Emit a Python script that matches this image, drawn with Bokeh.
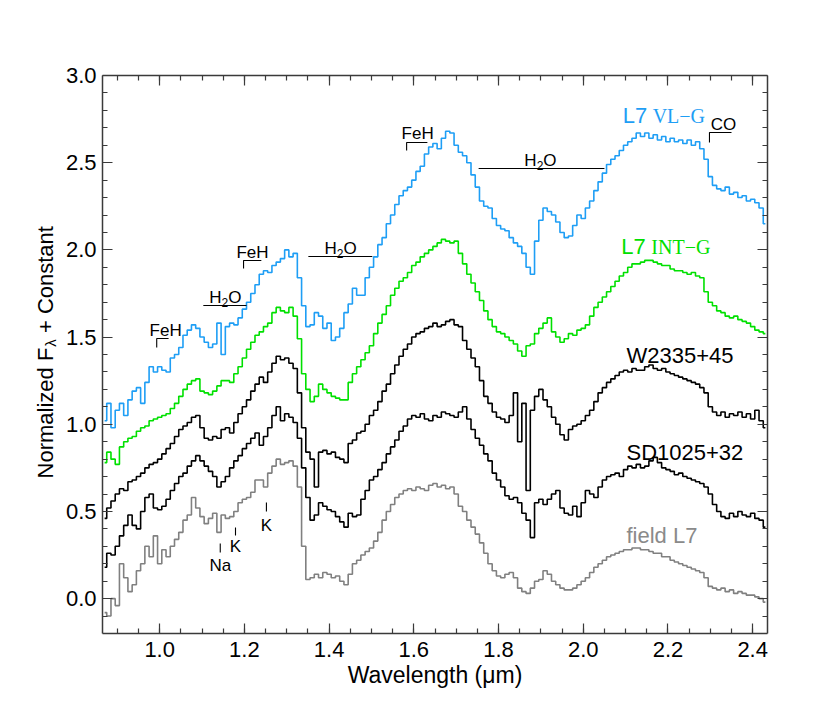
import numpy as np
from bokeh.plotting import figure
from bokeh.layouts import row
from bokeh.models import Range1d, LinearAxis, FixedTicker, Label, PrintfTickFormatter
from bokeh.core.properties import value
from bokeh.embed import file_html
from bokeh.resources import INLINE

# sampling grid of the spectra (microns)
wavelength = np.round(np.arange(0.87, 2.4351, 0.01), 2)

field_L7 = [
    -0.08, -0.10, 0.00, -0.04, 0.20, 0.12, 0.04, 0.08, 0.16, 0.20,
    0.30, 0.24, 0.36, 0.20, 0.28, 0.24, 0.30, 0.34, 0.38, 0.45,
    0.48, 0.58, 0.52, 0.47, 0.43, 0.46, 0.49, 0.38, 0.48, 0.46,
    0.47, 0.50, 0.55, 0.57, 0.58, 0.61, 0.68, 0.68, 0.64, 0.72,
    0.76, 0.80, 0.77, 0.78, 0.79, 0.76, 0.64, 0.30, 0.11, 0.12,
    0.14, 0.12, 0.15, 0.14, 0.12, 0.13, 0.10, 0.08, 0.14, 0.20,
    0.22, 0.25, 0.27, 0.29, 0.33, 0.38, 0.45, 0.50, 0.54, 0.58,
    0.60, 0.62, 0.63, 0.62, 0.64, 0.63, 0.62, 0.65, 0.66, 0.64,
    0.65, 0.63, 0.64, 0.60, 0.53, 0.50, 0.45, 0.41, 0.37, 0.32,
    0.26, 0.20, 0.16, 0.13, 0.12, 0.14, 0.15, 0.12, 0.06, 0.04,
    0.03, 0.06, 0.10, 0.11, 0.16, 0.14, 0.10, 0.08, 0.06, 0.05,
    0.05, 0.06, 0.08, 0.10, 0.12, 0.15, 0.18, 0.20, 0.22, 0.24,
    0.25, 0.26, 0.27, 0.28, 0.28, 0.29, 0.29, 0.28, 0.28, 0.27,
    0.26, 0.26, 0.24, 0.24, 0.22, 0.21, 0.20, 0.19, 0.18, 0.17,
    0.16, 0.15, 0.12, 0.07, 0.06, 0.05, 0.06, 0.04, 0.05, 0.03,
    0.04, 0.03, 0.02, 0.02, 0.01, 0.00, -0.02]

sd1025 = [
    0.18, 0.26, 0.25, 0.30, 0.36, 0.42, 0.48, 0.42, 0.40, 0.50,
    0.58, 0.60, 0.52, 0.51, 0.53, 0.57, 0.62, 0.66, 0.70, 0.72,
    0.76, 0.79, 0.82, 0.79, 0.76, 0.73, 0.70, 0.64, 0.67, 0.70,
    0.75, 0.79, 0.82, 0.86, 0.89, 0.92, 0.95, 0.88, 0.93, 0.98,
    1.05, 1.10, 1.02, 1.06, 1.04, 1.01, 0.92, 0.75, 0.58, 0.45,
    0.48, 0.55, 0.53, 0.51, 0.50, 0.47, 0.44, 0.41, 0.49, 0.47,
    0.48, 0.57, 0.62, 0.68, 0.70, 0.74, 0.78, 0.83, 0.87, 0.91,
    0.96, 0.99, 1.03, 1.05, 1.04, 1.06, 1.03, 1.02, 1.05, 1.04,
    1.07, 1.06, 1.05, 1.04, 1.07, 1.10, 1.03, 0.97, 0.92, 0.88,
    0.83, 0.79, 0.72, 0.68, 0.64, 0.59, 0.57, 0.58, 0.55, 0.49,
    0.45, 0.35, 0.55, 0.57, 0.54, 0.57, 0.60, 0.62, 0.52, 0.49,
    0.48, 0.53, 0.47, 0.55, 0.62, 0.60, 0.58, 0.64, 0.68, 0.70,
    0.71, 0.72, 0.70, 0.74, 0.76, 0.75, 0.77, 0.75, 0.76, 0.79,
    0.81, 0.78, 0.75, 0.74, 0.73, 0.71, 0.72, 0.70, 0.69, 0.68,
    0.67, 0.66, 0.64, 0.60, 0.54, 0.50, 0.47, 0.46, 0.49, 0.47,
    0.50, 0.48, 0.47, 0.49, 0.46, 0.45, 0.41]

w2335 = [
    0.46, 0.52, 0.56, 0.60, 0.63, 0.62, 0.67, 0.68, 0.70, 0.72,
    0.75, 0.77, 0.78, 0.80, 0.83, 0.86, 0.89, 0.93, 0.97, 0.99,
    1.01, 1.04, 1.05, 0.98, 0.92, 0.91, 0.93, 0.92, 0.97, 0.98,
    0.95, 1.01, 1.06, 1.10, 1.14, 1.19, 1.23, 1.27, 1.24, 1.30,
    1.35, 1.39, 1.37, 1.38, 1.35, 1.32, 1.18, 0.98, 0.84, 0.80,
    0.64, 0.84, 0.85, 0.83, 0.84, 0.81, 0.80, 0.78, 0.89, 0.91,
    0.95, 0.96, 1.00, 1.05, 1.08, 1.13, 1.19, 1.23, 1.29, 1.34,
    1.39, 1.43, 1.46, 1.50, 1.52, 1.53, 1.55, 1.56, 1.58, 1.56,
    1.57, 1.59, 1.60, 1.57, 1.56, 1.48, 1.43, 1.38, 1.33, 1.25,
    1.16, 1.12, 1.07, 1.04, 1.03, 1.01, 1.05, 1.18, 0.90, 1.12,
    0.62, 1.08, 1.16, 1.20, 1.14, 1.10, 1.04, 1.00, 0.94, 0.91,
    0.97, 0.99, 1.00, 1.02, 1.05, 1.08, 1.13, 1.18, 1.21, 1.24,
    1.26, 1.28, 1.30, 1.31, 1.30, 1.32, 1.31, 1.31, 1.33, 1.34,
    1.32, 1.31, 1.32, 1.30, 1.29, 1.28, 1.27, 1.26, 1.25, 1.24,
    1.23, 1.21, 1.18, 1.10, 1.07, 1.05, 1.07, 1.04, 1.06, 1.05,
    1.07, 1.04, 1.06, 1.03, 1.08, 1.02, 0.98]

l7_int_g = [
    0.78, 0.84, 0.80, 0.77, 0.87, 0.90, 0.92, 0.93, 0.96, 0.98,
    0.99, 1.02, 1.03, 1.04, 1.05, 1.06, 1.09, 1.12, 1.16, 1.20,
    1.23, 1.25, 1.26, 1.19, 1.18, 1.17, 1.19, 1.22, 1.25, 1.25,
    1.24, 1.29, 1.33, 1.38, 1.43, 1.47, 1.51, 1.53, 1.56, 1.58,
    1.64, 1.67, 1.65, 1.64, 1.67, 1.62, 1.49, 1.29, 1.20, 1.13,
    1.16, 1.23, 1.20, 1.18, 1.16, 1.15, 1.14, 1.14, 1.24, 1.29,
    1.33, 1.37, 1.41, 1.45, 1.52, 1.58, 1.63, 1.68, 1.74, 1.78,
    1.82, 1.84, 1.87, 1.91, 1.93, 1.96, 1.98, 2.00, 2.02, 2.04,
    2.06, 2.05, 2.04, 2.05, 1.98, 1.92, 1.86, 1.81, 1.76, 1.71,
    1.65, 1.60, 1.56, 1.53, 1.52, 1.50, 1.48, 1.46, 1.42, 1.39,
    1.45, 1.46, 1.52, 1.55, 1.58, 1.61, 1.53, 1.50, 1.47, 1.49,
    1.52, 1.51, 1.54, 1.55, 1.57, 1.62, 1.67, 1.70, 1.73, 1.76,
    1.79, 1.82, 1.85, 1.87, 1.90, 1.92, 1.92, 1.93, 1.94, 1.94,
    1.93, 1.92, 1.91, 1.91, 1.89, 1.88, 1.88, 1.87, 1.86, 1.87,
    1.85, 1.84, 1.76, 1.70, 1.68, 1.65, 1.64, 1.62, 1.61, 1.62,
    1.60, 1.59, 1.58, 1.56, 1.54, 1.53, 1.52]

l7_vl_g = [
    1.02, 1.12, 0.98, 1.08, 1.12, 1.05, 1.14, 1.19, 1.21, 1.12,
    1.24, 1.33, 1.30, 1.33, 1.31, 1.30, 1.38, 1.40, 1.44, 1.51,
    1.54, 1.57, 1.55, 1.50, 1.47, 1.44, 1.46, 1.58, 1.40, 1.56,
    1.58, 1.57, 1.61, 1.66, 1.70, 1.75, 1.80, 1.86, 1.88, 1.87,
    1.91, 1.93, 1.95, 2.00, 1.96, 1.98, 1.84, 1.68, 1.56, 1.57,
    1.64, 1.62, 1.55, 1.58, 1.48, 1.50, 1.55, 1.64, 1.69, 1.78,
    1.74, 1.74, 1.84, 1.90, 1.96, 2.03, 2.07, 2.15, 2.20, 2.26,
    2.31, 2.34, 2.36, 2.40, 2.45, 2.48, 2.55, 2.59, 2.61, 2.58,
    2.64, 2.68, 2.67, 2.60, 2.56, 2.54, 2.50, 2.43, 2.36, 2.28,
    2.25, 2.24, 2.18, 2.14, 2.12, 2.11, 2.07, 2.04, 2.02, 1.98,
    1.90, 1.86, 2.05, 2.17, 2.24, 2.22, 2.20, 2.16, 2.10, 2.07,
    2.08, 2.14, 2.20, 2.18, 2.24, 2.28, 2.34, 2.39, 2.44, 2.49,
    2.52, 2.54, 2.57, 2.60, 2.62, 2.64, 2.67, 2.65, 2.67, 2.64,
    2.66, 2.63, 2.65, 2.62, 2.64, 2.62, 2.63, 2.61, 2.63, 2.60,
    2.62, 2.58, 2.52, 2.42, 2.37, 2.35, 2.34, 2.36, 2.32, 2.33,
    2.30, 2.31, 2.28, 2.29, 2.27, 2.24, 2.15]

# molecular band markers
feature_names = ["FeH", "H2O", "FeH", "H2O", "FeH", "H2O", "CO"]
feature_x0 = [0.993, 1.103, 1.198, 1.351, 1.583, 1.753, 2.298]
feature_x1 = [1.021, 1.205, 1.240, 1.502, 1.632, 2.050, 2.350]
feature_y = [1.492, 1.681, 1.939, 1.962, 2.616, 2.467, 2.673]
feature_tick_y = [1.440, None, 1.893, None, 2.570, None, 2.616]
feature_text_x = [1.014, 1.155, 1.219, 1.427, 1.609, 1.899, 2.331]
feature_text_y = [1.509, 1.698, 1.956, 1.979, 2.639, 2.484, 2.685]

# atomic lines
atom_names = ["Na", "K", "K"]
atom_x = [1.143, 1.179, 1.252]
atom_tick_lo = [0.265, 0.362, 0.500]
atom_tick_hi = [0.316, 0.408, 0.551]
atom_text_y = [0.161, 0.265, 0.391]

x_major = [1.0, 1.2, 1.4, 1.6, 1.8, 2.0, 2.2, 2.4]
x_minor = [round(0.9 + 0.05 * i, 2) for i in range(31)]
y_major = [0.0, 0.5, 1.0, 1.5, 2.0, 2.5, 3.0]
y_minor = [round(-0.1 + 0.1 * i, 2) for i in range(31)]

BLUE = "#1e9ef5"
GREEN = "#00e000"
GRAY = "#808080"
BLACK = "#000000"
SANS = "Liberation Sans"
SERIF = "Liberation Serif"
BASE_FIX = 0.32   # renderer puts the alphabetic baseline ~0.32 em low

SIDE_W = 62
p = figure(width=814 - SIDE_W, height=710, output_backend="svg", toolbar_location=None,
           x_range=Range1d(0.865, 2.435), y_range=Range1d(-0.2, 3.0),
           x_axis_location=None, y_axis_location=None,
           min_border_left=102 - SIDE_W, min_border_right=47, min_border_top=75,
           min_border_bottom=77, background_fill_color="white",
           border_fill_color="white")
p.grid.visible = False
p.outline_line_color = None

bottom = LinearAxis()
left = LinearAxis()
top = LinearAxis()
right = LinearAxis()
p.add_layout(bottom, "below")
p.add_layout(left, "left")
p.add_layout(top, "above")
p.add_layout(right, "right")

AX_COLOR = "#3a3a3a"
for ax in [bottom, top]:
    ax.ticker = FixedTicker(ticks=x_major, minor_ticks=x_minor)
for ax in [left, right]:
    ax.ticker = FixedTicker(ticks=y_major, minor_ticks=y_minor)
for ax in [bottom, top, left, right]:
    ax.formatter = PrintfTickFormatter(format="%.1f")
    ax.axis_line_color = AX_COLOR
    ax.axis_line_width = 1.5
    ax.major_tick_line_color = AX_COLOR
    ax.minor_tick_line_color = AX_COLOR
    ax.major_tick_line_width = 1.2
    ax.minor_tick_line_width = 1.2
    ax.major_tick_in = 10
    ax.major_tick_out = 0
    ax.minor_tick_in = 5
    ax.minor_tick_out = 0
    ax.major_label_text_font = SANS
    ax.major_label_text_font_size = "22px"
    ax.major_label_text_color = BLACK
for ax in [top, right]:
    ax.major_label_text_alpha = 0
bottom.major_label_standoff = 8
left.major_label_standoff = 6
bottom.axis_label = "Wavelength (\u03bcm)"
bottom.axis_label_text_font = SANS
bottom.axis_label_text_font_size = "23px"
bottom.axis_label_text_font_style = "normal"
bottom.axis_label_text_color = BLACK
bottom.axis_label_standoff = 2

# spectra
series = [(field_L7, GRAY), (sd1025, BLACK), (w2335, BLACK),
          (l7_int_g, GREEN), (l7_vl_g, BLUE)]
for vals, col in series:
    assert len(vals) == len(wavelength)
    p.step(wavelength, vals, mode="center", line_color=col, line_width=1.6)

# band brackets
for x0, x1, yl, yt in zip(feature_x0, feature_x1, feature_y, feature_tick_y):
    if yt is None:
        p.line([x0, x1], [yl, yl], line_color=BLACK, line_width=1.1)
    else:
        p.line([x0, x0, x1], [yt, yl, yl], line_color=BLACK, line_width=1.1)


def lab(x, y, text, color=BLACK, font=SANS, size=22, dx=0, dy=0, align="left"):
    p.add_layout(Label(x=x, y=y, text=text, text_font=font, text_font_size=f"{size}px",
                       text_color=color, text_align=align, text_baseline="alphabetic",
                       x_offset=dx, y_offset=dy + BASE_FIX * size))


for name, tx, ty in zip(feature_names, feature_text_x, feature_text_y):
    if name == "H2O":
        lab(tx, ty, "H", size=17, dx=-16.1)
        lab(tx, ty, "2", size=12, dx=-3.8, dy=-4)
        lab(tx, ty, "O", size=17, dx=2.9)
    else:
        lab(tx, ty, name, size=17, align="center")

for name, ax_, lo, hi, ty in zip(atom_names, atom_x, atom_tick_lo, atom_tick_hi, atom_text_y):
    p.line([ax_, ax_], [lo, hi], line_color=BLACK, line_width=1.1)
    lab(ax_, ty, name, size=17, align="center")

# spectrum labels
lab(2.093, 2.730, "L7", BLUE)
lab(2.093, 2.730, "VL\u2212G", BLUE, font=SERIF, size=20, dx=30)
lab(2.090, 1.979, "L7", GREEN)
lab(2.090, 1.979, "INT\u2212G", GREEN, font=SERIF, size=20, dx=30)
lab(2.102, 1.354, "W2335+45")
lab(2.102, 0.798, "SD1025+32")
lab(2.102, 0.322, "field L7", "#8a8a8a")

# side panel carrying the rotated y-axis title (F with subscript lambda)
side = figure(width=SIDE_W, height=710, output_backend="svg", toolbar_location=None,
              x_range=Range1d(0, SIDE_W), y_range=p.y_range,
              x_axis_location=None, y_axis_location=None,
              min_border_left=0, min_border_right=0, min_border_top=75,
              min_border_bottom=77, background_fill_color="white",
              border_fill_color="white")
side.grid.visible = False
side.outline_line_color = None

TFS = 22
YX = 52 - BASE_FIX * TFS
YY = 0.689
PX_PER_Y = 558 / 3.2
w_main = 5.945 * TFS
title_parts = [("Normalized F", TFS, 0, 0.0),
               ("\u03bb", 15, 5, (w_main + 1) / PX_PER_Y),
               ("+ Constant", TFS, 0, (w_main + 8.5 + 0.278 * TFS) / PX_PER_Y)]
for t, fs, dx, dy in title_parts:
    side.text(x=[YX + dx], y=[YY + dy], text=[t], angle=np.pi / 2,
              text_font=value(SANS), text_font_size=value(f"{fs}px"),
              text_align="left", text_baseline="alphabetic", text_color=BLACK)

layout = row(side, p, spacing=0)
open("out.html", "w").write(file_html(layout, INLINE))
